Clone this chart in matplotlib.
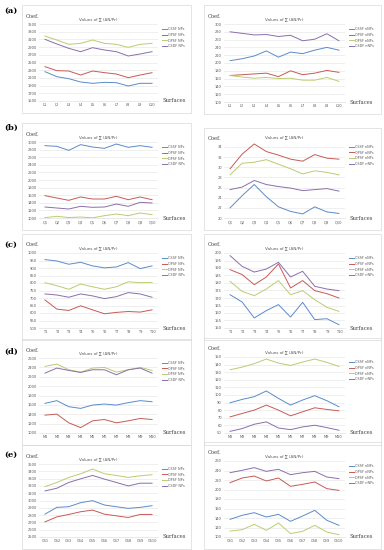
import matplotlib
matplotlib.use('Agg')
import matplotlib.pyplot as plt
import numpy as np
from matplotlib.patches import Rectangle

W, H = 384, 550

# ---- data ----
labels_a = ['L%d' % i for i in range(1, 11)]
labels_b = ['Q%d' % i for i in range(1, 11)]
labels_c = ['T%d' % i for i in range(1, 11)]
labels_d = ['M%d' % i for i in range(1, 11)]
labels_e = ['CS%d' % i for i in range(1, 11)]

# order: CSSF, OPSF, DPSF, CSDF
a_np = [[2262, 2132, 2080, 1994, 1959, 1985, 1976, 1890, 1959, 1959],
        [2392, 2288, 2279, 2175, 2279, 2236, 2201, 2106, 2175, 2236],
        [3188, 3084, 2972, 2998, 3084, 2998, 2972, 2894, 2972, 2998],
        [3102, 2980, 2868, 2781, 2885, 2825, 2781, 2669, 2721, 2781]]
a_nnp = [[206, 211, 218, 231, 215, 228, 224, 233, 240, 233],
         [168, 170, 172, 174, 165, 180, 170, 174, 181, 176],
         [168, 164, 161, 163, 160, 161, 156, 156, 163, 153],
         [280, 276, 272, 273, 268, 271, 257, 261, 275, 257]]

b_np = [[2904, 2886, 2781, 2930, 2868, 2833, 2947, 2860, 2904, 2860],
        [1588, 1526, 1465, 1553, 1500, 1500, 1570, 1482, 1553, 1482],
        [1010, 1044, 1012, 1026, 1004, 1061, 1105, 1061, 1132, 1088],
        [1289, 1263, 1237, 1307, 1281, 1289, 1368, 1307, 1412, 1395]]
b_nnp = [[22.0, 24.4, 26.6, 24.2, 22.2, 21.3, 20.8, 22.2, 21.2, 20.9],
         [29.7, 32.6, 34.6, 33.1, 32.4, 31.6, 31.2, 32.5, 31.8, 31.6],
         [28.5, 30.8, 31.0, 31.5, 30.6, 29.7, 28.7, 29.3, 29.0, 28.5],
         [25.6, 26.1, 27.4, 26.6, 26.2, 25.9, 25.4, 25.6, 25.8, 25.3]]

c_np = [[956, 947, 925, 938, 914, 901, 907, 936, 896, 914],
        [687, 626, 617, 648, 621, 595, 604, 610, 606, 621],
        [802, 782, 758, 793, 775, 758, 775, 808, 802, 804],
        [727, 720, 705, 727, 714, 696, 709, 736, 727, 705]]
c_nnp = [[172.2, 167.3, 156.7, 161.6, 165.6, 157.3, 167.1, 155.6, 156.2, 152.2],
         [188.9, 185.6, 178.9, 184.0, 192.7, 176.7, 181.6, 174.9, 172.9, 170.0],
         [181.1, 174.4, 171.6, 176.0, 181.6, 172.2, 174.9, 168.9, 163.8, 161.1],
         [198.2, 191.1, 187.3, 189.3, 193.8, 184.0, 187.8, 177.8, 176.0, 174.9]]

d_np = [[1632, 1690, 1561, 1525, 1596, 1618, 1596, 1647, 1690, 1668],
        [1381, 1403, 1217, 1116, 1260, 1288, 1217, 1260, 1310, 1288],
        [2421, 2471, 2349, 2299, 2385, 2399, 2299, 2349, 2399, 2335],
        [2277, 2385, 2335, 2292, 2349, 2349, 2242, 2349, 2385, 2277]]
d_nnp = [[89.8, 94.2, 97.8, 105.3, 95.6, 86.7, 93.4, 99.1, 92.5, 84.5],
         [71.2, 75.7, 80.1, 86.7, 80.1, 72.6, 77.9, 83.2, 81.0, 79.2],
         [133.2, 136.7, 141.2, 147.3, 142.0, 138.9, 143.4, 147.3, 142.9, 137.6],
         [52.2, 55.8, 61.5, 64.6, 56.6, 54.4, 58.0, 60.2, 57.1, 53.6]]

e_np = [[2813, 2906, 2915, 2970, 2998, 2938, 2915, 2892, 2906, 2929],
        [2707, 2776, 2809, 2846, 2869, 2813, 2790, 2767, 2809, 2809],
        [3191, 3247, 3316, 3366, 3431, 3366, 3343, 3316, 3339, 3353],
        [3131, 3168, 3247, 3297, 3343, 3293, 3247, 3200, 3237, 3237]]
e_nnp = [[137.2, 145.6, 151.2, 142.1, 147.7, 133.0, 144.2, 156.1, 135.1, 124.6],
         [214.4, 224.2, 228.4, 217.9, 224.2, 206.7, 210.9, 215.8, 201.8, 198.2],
         [112.6, 115.4, 126.7, 114.0, 129.5, 107.0, 112.0, 124.6, 110.5, 104.9],
         [235.4, 240.4, 246.0, 238.2, 242.5, 231.2, 235.4, 238.2, 226.3, 222.8]]

names_np = ['CSSF NPs', 'OPSF NPs', 'DPSF NPs', 'CSDF NPs']
names_nnp = ['CSSF nNPs', 'OPSF nNPs', 'DPSF nNPs', 'CSDF nNPs']
colors = ['#5B8BC9', '#C65A57', '#BCCB72', '#8A6FAD']

title = 'Values of ∑ (ΔN/Pr)'

fig = plt.figure(figsize=(W / 100, H / 100), dpi=100)


def frac(x0, y0, x1, y1):
    # pixel box (top-left origin) -> figure fraction rect
    return [x0 / W, 1 - y1 / H, (x1 - x0) / W, (y1 - y0) / H]


def panel(col, ytop, ybot, cats, series, names, ymin, ymax, step, ylim_top=None):
    if col == 0:
        bx0, bx1, ax0, ax1 = 22, 191, 39, 158
    else:
        bx0, bx1, ax0, ax1 = 204, 381, 224, 345
    top = ylim_top if ylim_top is not None else ymax
    # axes pixel top depends on the extra headroom
    ptop = ytop - (top - ymax) / (ymax - ymin) * (ybot - ytop)
    fig.patches.append(Rectangle((bx0 / W, 1 - (ybot + 12) / H),
                                 (bx1 - bx0) / W, (ybot + 12 - ytop + 19) / H,
                                 transform=fig.transFigure, fill=False,
                                 edgecolor='#D9D9D9', linewidth=0.5))
    ax = fig.add_axes(frac(ax0, ptop, ax1, ybot))
    x = np.arange(len(cats))
    for vals, name, c in zip(series, names, colors):
        ax.plot(x, vals, color=c, linewidth=0.7, label=name)
    ax.set_xlim(-0.5, len(cats) - 0.5)
    ax.set_ylim(ymin, top)
    ax.set_yticks(np.arange(ymin, ymax + step / 2, step))
    ax.set_xticks(x)
    ax.set_xticklabels(cats)
    ax.tick_params(labelsize=2.6, length=0, pad=1.5, colors='#595959')
    ax.grid(axis='y', color='#E3E3E3', linewidth=0.4)
    ax.set_axisbelow(True)
    for s in ['top', 'right', 'left']:
        ax.spines[s].set_visible(False)
    ax.spines['bottom'].set_color('#D9D9D9')
    ax.spines['bottom'].set_linewidth(0.4)
    ax.set_title(title, fontsize=3, color='#595959', pad=3)
    fig.text((bx0 + 4) / W, 1 - (ytop - 8) / H, 'Coef.', fontsize=3.8,
             family='DejaVu Serif', va='center', ha='left', color='#404040')
    ax.text(1.04, 0.0, 'Surfaces', transform=ax.transAxes, fontsize=3.8,
            family='DejaVu Serif', va='center', ha='left', color='#404040')
    leg = ax.legend(loc='upper left', bbox_to_anchor=(1.02, 0.98),
                    fontsize=2.4, frameon=False, handlelength=1.6,
                    labelspacing=0.55, handletextpad=0.3, borderaxespad=0)
    for t in leg.get_texts():
        t.set_color('#595959')
    return ax


panel(0, 24, 101, labels_a, a_np, names_np, 1500, 3500, 200)
panel(1, 24, 102, labels_a, a_nnp, names_nnp, 100, 300, 20)
panel(0, 142, 218, labels_b, b_np, names_np, 1000, 3000, 200)
panel(1, 147, 218, labels_b, b_nnp, names_nnp, 20, 34, 2, ylim_top=35)
panel(0, 253, 328, labels_c, c_np, names_np, 500, 1000, 50)
panel(1, 253, 328, labels_c, c_nnp, names_nnp, 150, 200, 5)
panel(0, 358, 433, labels_d, d_np, names_np, 1000, 2600, 200)
panel(1, 357, 433, labels_d, d_nnp, names_nnp, 50, 150, 10)
panel(0, 464, 537, labels_e, e_np, names_np, 2500, 3500, 100)
panel(1, 461, 537, labels_e, e_nnp, names_nnp, 100, 260, 20)

for lab, y in zip(['(a)', '(b)', '(c)', '(d)', '(e)'], [11, 128, 245, 352, 455]):
    fig.text(4 / W, 1 - y / H, lab, fontsize=6, fontweight='bold',
             family='DejaVu Serif', va='center', ha='left')

fig.savefig('out.png', dpi=100)
